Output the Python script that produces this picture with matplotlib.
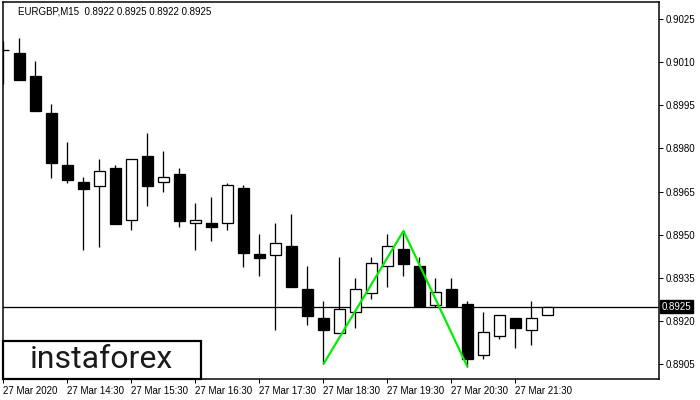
import matplotlib
matplotlib.use("Agg")
import matplotlib.pyplot as plt
from matplotlib.patches import Rectangle

# EURGBP M15 candles, left to right
opens = [0.90142, 0.90132, 0.90052, 0.89923, 0.89742, 0.89683, 0.89669, 0.89732,
         0.89551, 0.89773, 0.89683, 0.89711, 0.89540, 0.89540, 0.89540, 0.89662,
         0.89433, 0.89429, 0.89460, 0.89311, 0.89210, 0.89158, 0.89231, 0.89297,
         0.89391, 0.89450, 0.89391, 0.89255, 0.89311, 0.89259, 0.89081, 0.89147,
         0.89210, 0.89168, 0.89220]
highs = [0.90174, 0.90184, 0.90104, 0.89954, 0.89822, 0.89700, 0.89763, 0.89742,
         0.89763, 0.89853, 0.89791, 0.89732, 0.89610, 0.89631, 0.89680, 0.89673,
         0.89502, 0.89540, 0.89572, 0.89391, 0.89269, 0.89422, 0.89349, 0.89422,
         0.89502, 0.89513, 0.89422, 0.89349, 0.89349, 0.89269, 0.89231, 0.89220,
         0.89210, 0.89269, 0.89250]
lows = [0.90024, 0.90038, 0.89930, 0.89697, 0.89680, 0.89447, 0.89457, 0.89537,
        0.89516, 0.89600, 0.89648, 0.89527, 0.89447, 0.89478, 0.89516, 0.89387,
        0.89356, 0.89168, 0.89318, 0.89186, 0.89050, 0.89158, 0.89175, 0.89276,
        0.89318, 0.89356, 0.89252, 0.89248, 0.89252, 0.89040, 0.89067, 0.89137,
        0.89106, 0.89116, 0.89220]
closes = [0.90142, 0.90038, 0.89930, 0.89749, 0.89690, 0.89659, 0.89721, 0.89537,
          0.89763, 0.89669, 0.89700, 0.89547, 0.89551, 0.89527, 0.89673, 0.89436,
          0.89419, 0.89471, 0.89318, 0.89217, 0.89168, 0.89241, 0.89311, 0.89401,
          0.89460, 0.89398, 0.89252, 0.89300, 0.89252, 0.89067, 0.89161, 0.89220,
          0.89175, 0.89210, 0.89250]

# double top pattern: bottom, peak, bottom
pattern_idx = [20, 25, 29]
pattern_px = [0.89050, 0.89513, 0.89040]

last_price = 0.8925
title = "EURGBP,M15  0.8922 0.8925 0.8922 0.8925"

date_ticks = [0, 4, 8, 12, 16, 20, 24, 28, 32]
date_labels = ["27 Mar 2020", "27 Mar 14:30", "27 Mar 15:30", "27 Mar 16:30",
               "27 Mar 17:30", "27 Mar 18:30", "27 Mar 19:30", "27 Mar 20:30",
               "27 Mar 21:30"]
price_ticks = [0.9025, 0.9010, 0.8995, 0.8980, 0.8965, 0.8950, 0.8935, 0.8920, 0.8905]

px = 0.72  # one pixel in points at dpi 100
font = "Liberation Sans"

fig = plt.figure(figsize=(7, 4), dpi=100)
ax = fig.add_axes([3 / 700, 21 / 400, 656 / 700, 377 / 400])

for i in range(len(opens)):
    o, h, l, c = opens[i], highs[i], lows[i], closes[i]
    ax.vlines(i, l, h, color="black", lw=px * 1.3, zorder=2)
    face = "white" if (c > o) else "black"
    ax.bar(i, abs(c - o), bottom=min(o, c), width=0.69,
           facecolor=face, edgecolor="black", lw=px * 1.3, zorder=3)

ax.axhline(last_price, color="black", lw=px * 1.3, zorder=1)
ax.plot(pattern_idx, pattern_px, color="#00ee00", lw=px * 2.2, zorder=4,
        solid_capstyle="butt")

ax.set_xlim(-0.03, 40.97)
ax.set_ylim(0.88998, 0.90309)

ax.yaxis.tick_right()
ax.set_yticks(price_ticks)
ax.set_yticklabels([f"{p:.4f}" for p in price_ticks], fontsize=7, family=font)
ax.set_xticks(date_ticks)
ax.set_xticklabels(date_labels, fontsize=7, family=font, ha="left")
ax.tick_params(axis="both", direction="out", length=3, width=px, pad=2)
for s in ax.spines.values():
    s.set_linewidth(px * 1.5)

# current price marker on the price scale
ax.text(1.0045, last_price, f"{last_price:.4f}", transform=ax.get_yaxis_transform(),
        ha="left", va="center", fontsize=7, family=font, color="white",
        bbox=dict(boxstyle="square,pad=0.15", fc="black", ec="black"), zorder=5,
        clip_on=False)

ax.text(15 / 656, 0.976, title, transform=ax.transAxes, fontsize=7, family=font,
        color="black", ha="left", va="center")

# logo box
fig.patches.append(Rectangle((3 / 700, 21 / 400), 198 / 700, 38 / 400,
                             transform=fig.transFigure, facecolor="white",
                             edgecolor="black", lw=px * 2.2, zorder=10))
fig.text(101 / 700, 40 / 400, "instaforex", fontsize=23, family="Roboto",
         color="#1a1a1a", ha="center", va="center", zorder=11)

fig.savefig("out.png", dpi=100)
